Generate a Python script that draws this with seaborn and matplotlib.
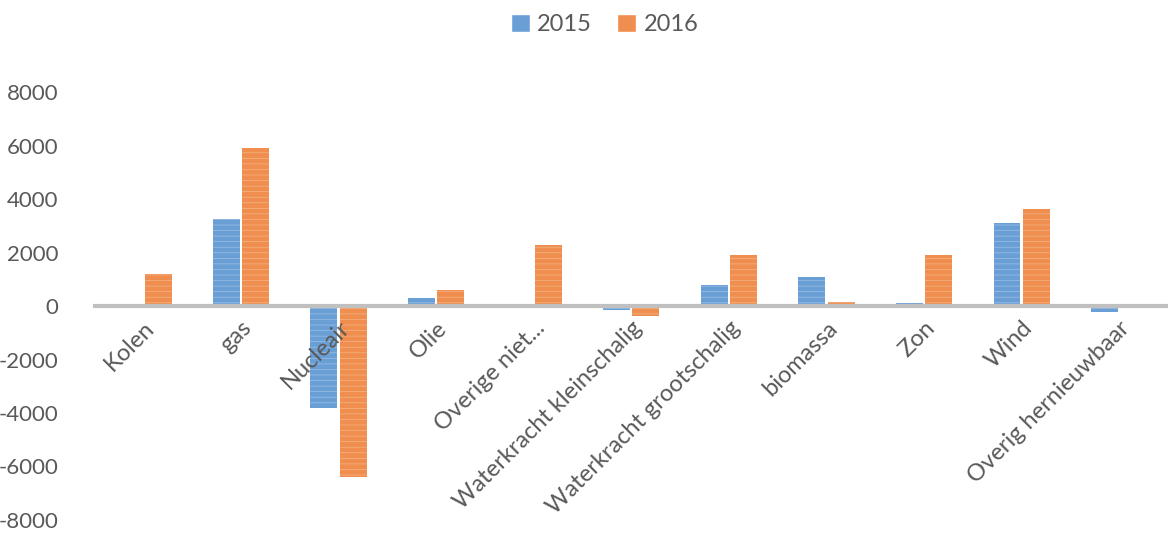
import pandas as pd
import seaborn as sns
import matplotlib.pyplot as plt

# Values (change in MW)
categories = ["Kolen", "gas", "Nucleair", "Olie", "Overige niet...",
              "Waterkracht kleinschalig", "Waterkracht grootschalig",
              "biomassa", "Zon", "Wind", "Overig hernieuwbaar"]
values_2015 = [0, 3270, -3830, 300, 0, -150, 800, 1100, 130, 3120, -230]
values_2016 = [1200, 5910, -6390, 600, 2300, -380, 1900, 170, 1900, 3640, 0]
years = ["2015", "2016"]
yticks = [-8000, -6000, -4000, -2000, 0, 2000, 4000, 6000, 8000]

df = pd.DataFrame({
    "cat": categories * 2,
    "year": [years[0]] * len(categories) + [years[1]] * len(categories),
    "val": values_2015 + values_2016,
})

sns.set_style("white")
plt.rcParams['font.family'] = ['Lato', 'DejaVu Sans']
plt.rcParams['hatch.linewidth'] = 0.5
plt.rcParams['axes.unicode_minus'] = False

fig = plt.figure(figsize=(11.68, 5.36), dpi=100)
ax = fig.add_axes([0.081, 0.03, 0.919, 0.798])

palette = {"2015": "#6A9FD6", "2016": "#EF8E4E"}
sns.barplot(data=df, x="cat", y="val", hue="year", palette=palette,
            width=0.6, gap=0.08, saturation=1, ax=ax, legend=True)

# faint horizontal stripes like the original bar fill
light = {"2015": "#9DC0E6", "2016": "#F5B687"}
for cont, yr in zip(ax.containers, years):
    for bar in cont:
        bar.set_hatch("---")
        bar.set_edgecolor(light[yr])
        bar.set_linewidth(0)

ax.set_axisbelow(False)
ax.set_ylim(-8000, 8000)
ax.set_xlim(-0.5, 10.5)
ax.set_yticks(yticks)
ax.set_xlabel("")
ax.set_ylabel("")
for s in ["top", "right", "left"]:
    ax.spines[s].set_visible(False)
ax.spines["bottom"].set_position(("data", 0))
ax.spines["bottom"].set_color("#C0C0C0")
ax.spines["bottom"].set_linewidth(3)
ax.tick_params(axis="both", length=0, labelsize=17, labelcolor="#595959")
ax.tick_params(axis="y", pad=26, labelsize=16)
plt.setp(ax.get_xticklabels(), rotation=45, ha="right", rotation_mode="anchor")
ax.tick_params(axis="x", pad=8)

ax.legend(loc="center", bbox_to_anchor=(0.475, 1.158),
          ncol=2, frameon=False, fontsize=17, handlelength=0.8, handleheight=0.8,
          columnspacing=1.1, handletextpad=0.3, labelcolor="#595959")
for h in ax.get_legend().legend_handles:
    h.set_hatch(None)

fig.savefig("out.png", dpi=100)
